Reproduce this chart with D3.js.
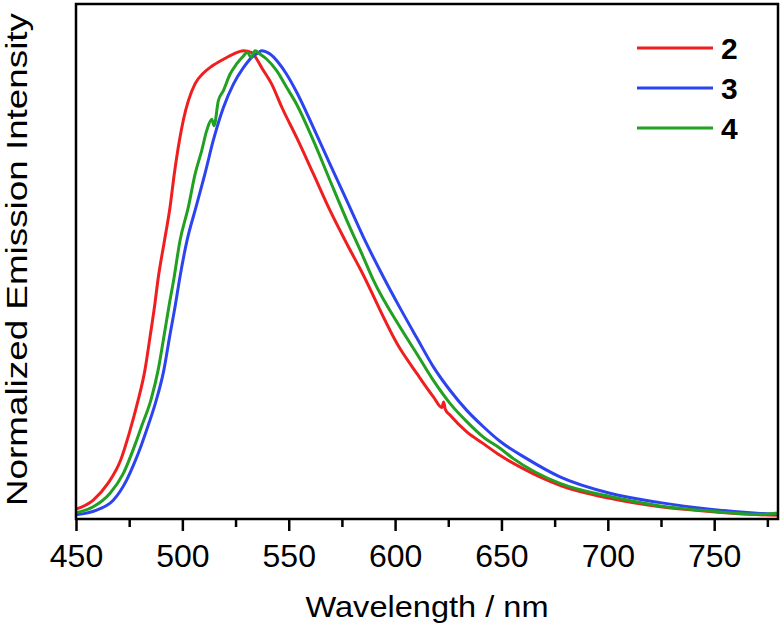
<!DOCTYPE html>
<html>
<head>
<meta charset="utf-8">
<script src="https://cdn.jsdelivr.net/npm/d3@7/dist/d3.min.js"></script>
<style>
  html, body { margin: 0; padding: 0; background: #fff; }
  svg { display: block; }
  text { font-family: "Liberation Sans", Arial, Helvetica, sans-serif; fill: #000; }
</style>
</head>
<body>
<svg id="chart" width="784" height="626"></svg>
<script>
// ---- Data (wavelength in nm, normalized intensity) ----
const seriesNames = ["2", "3", "4"];
const seriesColors = ["#f01e1e", "#2b44f0", "#22a022"];

const wl2 = [450, 458, 465, 471, 475, 479, 482.4, 484.8, 487.1, 488.5, 491.6, 494.2, 496.2, 498.6, 500.6, 502.8, 506, 509.8, 513.8, 519.3, 524, 528.7, 532.6, 535, 537.3, 542, 546.7, 553.7, 561.6, 569.4, 577.3, 583.5, 602.3, 610.2, 618, 622, 622.8, 623.6, 625.8, 633.7, 641.5, 649.3, 660, 677.5, 701, 724.6, 748, 771.6, 780];
const val2 = [0.021, 0.040, 0.076, 0.126, 0.183, 0.250, 0.318, 0.389, 0.460, 0.510, 0.595, 0.666, 0.737, 0.808, 0.855, 0.893, 0.930, 0.952, 0.967, 0.982, 0.993, 1.000, 0.996, 0.982, 0.964, 0.929, 0.880, 0.815, 0.737, 0.659, 0.588, 0.535, 0.364, 0.311, 0.261, 0.238, 0.250, 0.234, 0.222, 0.186, 0.161, 0.136, 0.108, 0.072, 0.044, 0.026, 0.016, 0.009, 0.008];

const wl3 = [450, 459.7, 467.5, 473.8, 477, 480.1, 483.2, 487.5, 491.3, 494, 496.8, 498.6, 502.2, 506.4, 510.6, 514.5, 519.3, 524, 528.7, 532.6, 535.7, 537.3, 541.2, 545.1, 549, 553.7, 561.6, 569.4, 577.3, 585.1, 594.5, 602.3, 610.2, 618, 625.8, 633.7, 641.5, 649.3, 661.9, 677.5, 701, 724.6, 748, 771.6, 780];
const val3 = [0.009, 0.019, 0.040, 0.083, 0.115, 0.150, 0.190, 0.250, 0.318, 0.389, 0.460, 0.510, 0.595, 0.666, 0.737, 0.808, 0.879, 0.929, 0.964, 0.986, 0.996, 1.000, 0.993, 0.975, 0.950, 0.912, 0.836, 0.758, 0.680, 0.602, 0.517, 0.451, 0.387, 0.325, 0.275, 0.232, 0.197, 0.166, 0.129, 0.090, 0.055, 0.035, 0.021, 0.012, 0.010];

const wl4 = [450, 458.1, 466, 472.2, 478.5, 481, 485.2, 488.6, 491.3, 493.9, 495.9, 498.9, 502.8, 506, 509.1, 511.4, 513.8, 514.9, 516.9, 519.3, 522.4, 525.5, 528.7, 530.5, 532.3, 534.2, 536.5, 539.7, 544.4, 549, 553.7, 561.6, 569.4, 577.3, 585.1, 589.8, 602.3, 610.2, 618, 625.8, 633.7, 641.5, 649.3, 655.6, 677.5, 701, 724.6, 748, 771.6, 780];
const val4 = [0.013, 0.026, 0.055, 0.097, 0.168, 0.200, 0.254, 0.318, 0.389, 0.460, 0.510, 0.595, 0.666, 0.737, 0.787, 0.829, 0.854, 0.840, 0.893, 0.915, 0.950, 0.972, 0.989, 0.997, 0.986, 1.000, 0.993, 0.982, 0.957, 0.922, 0.886, 0.808, 0.723, 0.638, 0.559, 0.510, 0.410, 0.353, 0.296, 0.247, 0.208, 0.175, 0.151, 0.129, 0.076, 0.048, 0.028, 0.017, 0.010, 0.013];

const majorTicks = [450, 500, 550, 600, 650, 700, 750];
const minorTicks = [475, 525, 575, 625, 675, 725, 775];
const xTitle = "Wavelength / nm";
const yTitle = "Normalized Emission Intensity";

// ---- Layout ----
const svg = d3.select("#chart");
const L = 76, R = 778, T = 4, B = 519;

const x = d3.scaleLinear().domain([450, 780]).range([L, R]);
const y = d3.scaleLinear().domain([0, 1.1]).range([B, T]);

const series = [
  { name: seriesNames[0], color: seriesColors[0], pts: wl2.map((w, i) => [w, val2[i]]) },
  { name: seriesNames[1], color: seriesColors[1], pts: wl3.map((w, i) => [w, val3[i]]) },
  { name: seriesNames[2], color: seriesColors[2], pts: wl4.map((w, i) => [w, val4[i]]) }
];

svg.append("defs").append("clipPath").attr("id", "clip")
  .append("rect").attr("x", L).attr("y", T).attr("width", R - L).attr("height", B - T);

const line = d3.line()
  .x(d => x(d[0]))
  .y(d => y(d[1]))
  .curve(d3.curveMonotoneX);

const g = svg.append("g").attr("clip-path", "url(#clip)");
series.forEach(s => {
  g.append("path")
    .datum(s.pts)
    .attr("fill", "none")
    .attr("stroke", s.color)
    .attr("stroke-width", 3)
    .attr("stroke-linejoin", "round")
    .attr("d", line);
});

// ---- Axes ----
const xAxis = d3.axisBottom(x).tickValues(majorTicks).tickSize(12).tickPadding(13).tickFormat(d3.format("d"));
const xMinor = d3.axisBottom(x).tickValues(minorTicks).tickSize(8).tickFormat("");

const ga = svg.append("g").attr("transform", `translate(0,${B})`).call(xAxis);
const gm = svg.append("g").attr("transform", `translate(0,${B})`).call(xMinor);
[ga, gm].forEach(a => {
  a.select(".domain").remove();
  a.selectAll(".tick line").attr("stroke", "#000").attr("stroke-width", 2.5);
});
ga.selectAll(".tick text")
  .attr("font-size", 32)
  .attr("font-family", "Liberation Sans, Arial, sans-serif")
  .attr("fill", "#000");

// Frame
svg.append("rect")
  .attr("x", L).attr("y", T).attr("width", R - L).attr("height", B - T)
  .attr("fill", "none").attr("stroke", "#000").attr("stroke-width", 2.5);

// Titles
svg.append("text")
  .attr("x", (L + R) / 2).attr("y", 617)
  .attr("text-anchor", "middle")
  .attr("font-size", 30)
  .attr("textLength", 243).attr("lengthAdjust", "spacingAndGlyphs")
  .text(xTitle);

svg.append("text")
  .attr("transform", `translate(27,${(T + B) / 2 - 2}) rotate(-90)`)
  .attr("text-anchor", "middle")
  .attr("font-size", 30)
  .attr("textLength", 493).attr("lengthAdjust", "spacingAndGlyphs")
  .text(yTitle);

// Legend
const lg = svg.append("g");
series.forEach((s, i) => {
  const yy = 48 + i * 40;
  lg.append("line")
    .attr("x1", 637).attr("x2", 713).attr("y1", yy).attr("y2", yy)
    .attr("stroke", s.color).attr("stroke-width", 3);
  lg.append("text")
    .attr("x", 721).attr("y", yy + 11)
    .attr("font-size", 30).attr("font-weight", "bold")
    .text(s.name);
});
</script>
</body>
</html>
